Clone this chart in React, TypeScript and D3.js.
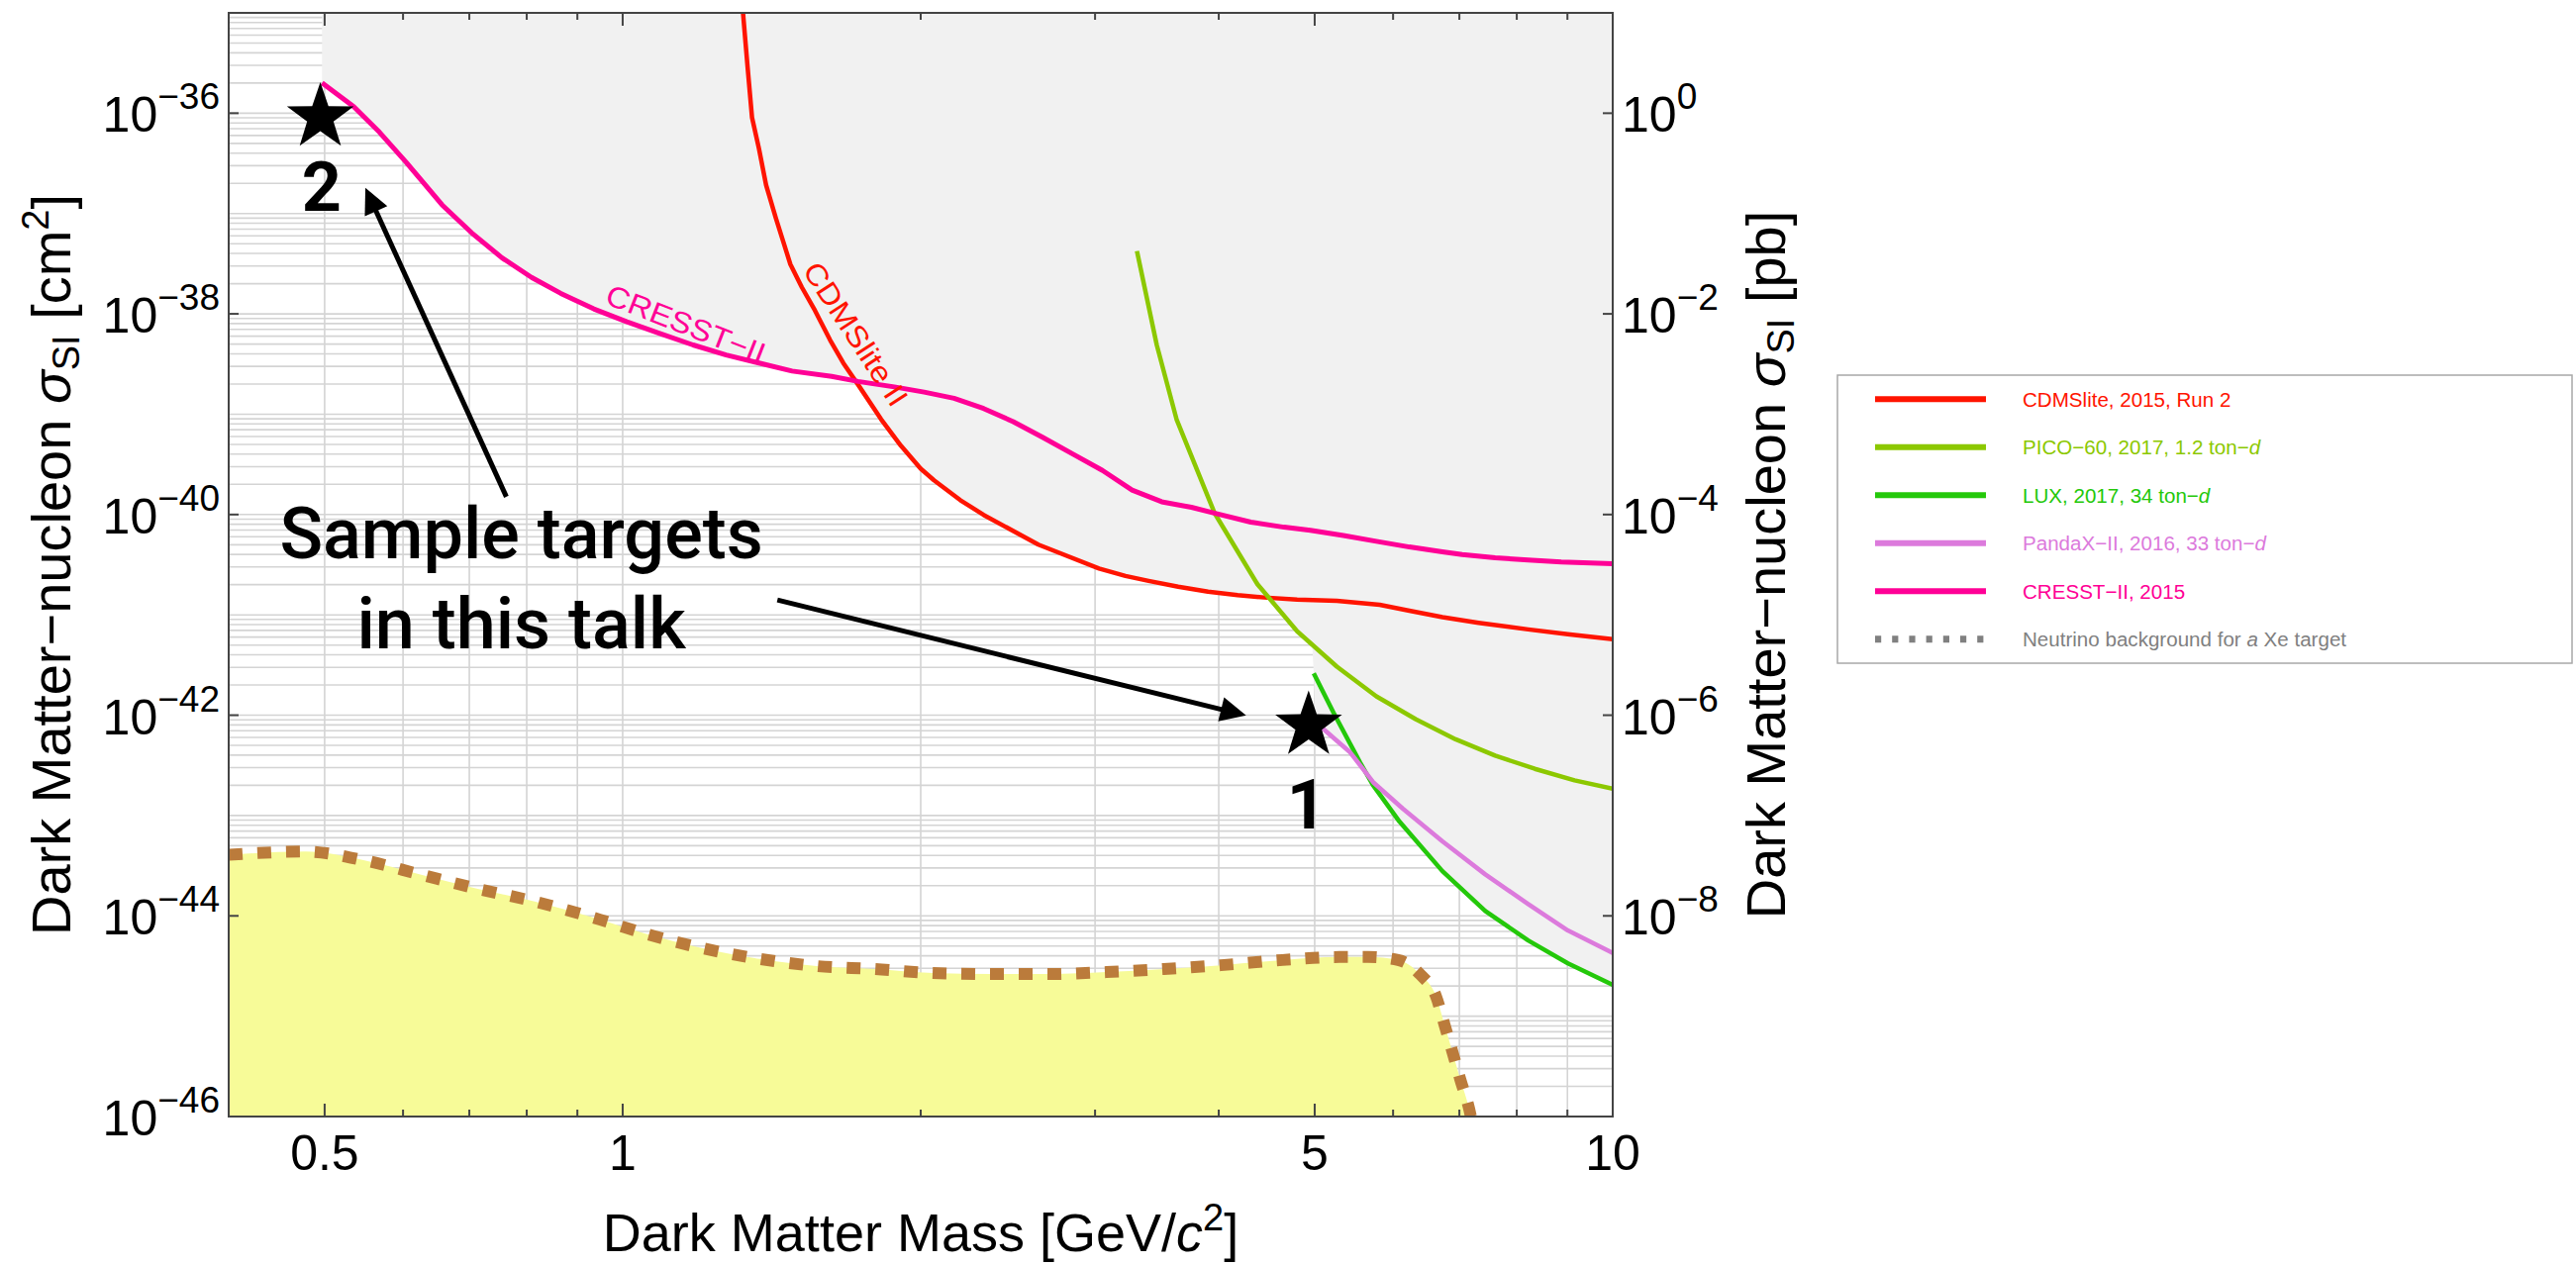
import React from 'react';
import * as d3 from 'd3';

type Pt = [number, number];

// ---------- DATA (mass in GeV/c^2, cross-section in cm^2) ----------
const CDMSLITE: Pt[] = [
  [1.321, 1.19e-35], [1.337, 2.92e-36], [1.351, 9.06e-37], [1.373, 4.42e-37], [1.396, 1.92e-37],
  [1.428, 9.02e-38], [1.477, 3.12e-38], [1.517, 1.84e-38], [1.564, 1.08e-38], [1.62, 5.48e-39],
  [1.671, 3.22e-39], [1.729, 1.97e-39], [1.824, 8.91e-40], [1.91, 4.85e-40], [2.0, 2.86e-40],
  [2.063, 2.19e-40], [2.193, 1.39e-40], [2.315, 9.91e-41], [2.63, 5.01e-41], [3.028, 2.9e-41],
  [3.22, 2.44e-41], [3.398, 2.18e-41], [3.64, 1.91e-41], [3.902, 1.7e-41], [4.18, 1.57e-41],
  [4.445, 1.49e-41], [4.8, 1.42e-41], [5.265, 1.38e-41], [5.816, 1.26e-41], [6.232, 1.1e-41],
  [6.73, 9.48e-42], [7.32, 8.34e-42], [8.215, 7.16e-42], [9.01, 6.4e-42], [10, 5.71e-42],
];

const PICO60: Pt[] = [
  [3.307, 4.23e-38], [3.463, 4.9e-39], [3.626, 8.91e-40], [3.962, 1.03e-40], [4.377, 2.02e-41],
  [4.8, 6.87e-42], [5.265, 3.05e-42], [5.771, 1.54e-42], [6.329, 9.08e-43], [6.94, 5.75e-43],
  [7.608, 3.95e-43], [8.343, 2.92e-43], [9.15, 2.24e-43], [10, 1.85e-43],
];

const LUX: Pt[] = [
  [4.989, 2.62e-42], [5.224, 1.06e-42], [5.555, 3.4e-43], [5.728, 2.0e-43], [6.09, 8.69e-44],
  [6.73, 2.79e-44], [7.435, 1.12e-44], [8.215, 5.69e-45], [9.01, 3.36e-45], [10, 2.05e-45],
];

const PANDAX: Pt[] = [
  [5.0, 8.71e-43], [5.105, 7.24e-43], [5.429, 4.27e-43], [5.728, 2.15e-43], [6.138, 1.17e-43],
  [6.73, 5.52e-44], [7.435, 2.59e-44], [8.215, 1.31e-44], [9.01, 7.14e-45], [10, 4.27e-45],
];

const CRESST: Pt[] = [
  [0.497, 2.01e-36], [0.535, 1.16e-36], [0.568, 6.46e-37], [0.604, 3.27e-37], [0.657, 1.22e-37],
  [0.704, 6.41e-38], [0.755, 3.63e-38], [0.809, 2.31e-38], [0.866, 1.6e-38], [0.935, 1.12e-38],
  [1.01, 8.32e-39], [1.09, 6.37e-39], [1.178, 4.9e-39], [1.272, 3.89e-39], [1.373, 3.24e-39],
  [1.483, 2.69e-39], [1.626, 2.38e-39], [1.729, 2.12e-39], [1.881, 1.87e-39], [2.016, 1.66e-39],
  [2.161, 1.44e-39], [2.315, 1.14e-39], [2.48, 8.43e-40], [2.658, 5.86e-40], [2.848, 4.02e-40],
  [3.052, 2.75e-40], [3.27, 1.75e-40], [3.503, 1.34e-40], [3.754, 1.18e-40], [3.977, 1.02e-40],
  [4.31, 8.39e-41], [4.656, 7.48e-41], [4.95, 6.95e-41], [5.345, 6.19e-41], [5.771, 5.41e-41],
  [6.232, 4.75e-41], [6.73, 4.25e-41], [7.047, 4.0e-41], [7.608, 3.71e-41], [8.215, 3.52e-41],
  [8.872, 3.36e-41], [10, 3.24e-41],
];

const NEUTRINO: Pt[] = [
  [0.4, 4.07e-44], [0.478, 4.37e-44], [0.55, 3.55e-44], [0.626, 2.57e-44], [0.714, 1.86e-44],
  [0.815, 1.39e-44], [0.929, 9.77e-45], [1.056, 6.61e-45], [1.201, 4.79e-45], [1.376, 3.72e-45],
  [1.57, 3.16e-45], [1.798, 2.95e-45], [2.057, 2.69e-45], [2.355, 2.63e-45], [2.7, 2.63e-45],
  [3.08, 2.75e-45], [3.52, 2.95e-45], [4.05, 3.24e-45], [4.64, 3.63e-45], [5.3, 3.89e-45],
  [5.66, 3.89e-45], [6.07, 3.63e-45], [6.4, 2.57e-45], [6.63, 1.58e-45], [6.76, 8.32e-46],
  [6.89, 4.37e-46], [7.02, 2.29e-46], [7.16, 1.2e-46], [7.19, 1.0e-46],
];

const SERIES_KEYS = ['CDMSlite', 'PICO', 'LUX', 'PandaX', 'CRESST'];
const SERIES_DATA: Pt[][] = [CDMSLITE, PICO60, LUX, PANDAX, CRESST];
const SERIES_COLORS = ['#ff1400', '#8cc800', '#24c80a', '#dc7adc', '#ff0096'];

const X_MAJOR_TICKS = [0.5, 1, 5, 10];
const X_MINOR_TICKS = [0.6, 0.7, 0.8, 0.9, 2, 3, 4, 6, 7, 8, 9];
const Y_LEFT_EXPONENTS = [-36, -38, -40, -42, -44, -46];
const Y_RIGHT_EXPONENTS = [0, -2, -4, -6, -8];

// annotation anchors (data coordinates)
const STARS: Pt[] = [[0.495, 9.1e-37], [4.93, 7.9e-43]];
const STAR_LABELS: { text: string; at: Pt }[] = [
  { text: '2', at: [0.4964, 1.057e-37] },
  { text: '1', at: [4.908, 7.36e-44] },
];
const ARROWS: { from: Pt; to: Pt }[] = [
  { from: [0.763, 1.503e-40], to: [0.5497, 1.807e-37] },
  { from: [1.433, 1.406e-41], to: [4.263, 9.93e-43] },
];
const NOTE_LINES = ['Sample targets', 'in this talk'];

// ---------- LAYOUT ----------
const W = 2602;
const H = 1278;
const PL = 231, PR = 1629, PT = 13, PB = 1128;
const FONT = '"Liberation Sans", Arial, Helvetica, sans-serif';

const x = d3.scaleLog().domain([0.4, 10]).range([PL, PR]);
const y = d3.scaleLog().domain([1e-46, 1e-35]).range([PB, PT]);

function logInterp(curve: Pt[], m: number): number | null {
  if (m < curve[0][0] - 1e-9 || m > curve[curve.length - 1][0] + 1e-9) return null;
  const lm = Math.log10(m);
  for (let i = 0; i < curve.length - 1; i++) {
    const a = curve[i], b = curve[i + 1];
    if (m >= a[0] - 1e-9 && m <= b[0] + 1e-9) {
      const la = Math.log10(a[0]), lb = Math.log10(b[0]);
      const t = lb === la ? 0 : (lm - la) / (lb - la);
      return Math.log10(a[1]) + t * (Math.log10(b[1]) - Math.log10(a[1]));
    }
  }
  return Math.log10(curve[curve.length - 1][1]);
}

function starPath(cx: number, cy: number, R: number, r: number): string {
  const pts: string[] = [];
  for (let i = 0; i < 10; i++) {
    const ang = -Math.PI / 2 + (i * Math.PI) / 5;
    const rad = i % 2 === 0 ? R : r;
    pts.push(`${(cx + rad * Math.cos(ang)).toFixed(2)},${(cy + rad * Math.sin(ang)).toFixed(2)}`);
  }
  return 'M' + pts.join('L') + 'Z';
}

function Arrow({ from, to }: { from: Pt; to: Pt }) {
  const x1 = x(from[0]), y1 = y(from[1]);
  const x2 = x(to[0]), y2 = y(to[1]);
  const dx = x2 - x1, dy = y2 - y1;
  const len = Math.hypot(dx, dy);
  const ux = dx / len, uy = dy / len;
  const hl = 26, hw = 12.5;
  const bx = x2 - ux * hl, by = y2 - uy * hl;
  const head = `M${x2},${y2}L${bx - uy * hw},${by + ux * hw}L${bx + uy * hw},${by - ux * hw}Z`;
  return (
    <g>
      <line x1={x1} y1={y1} x2={bx + ux * 2} y2={by + uy * 2} stroke="#000" strokeWidth={5} />
      <path d={head} fill="#000" />
    </g>
  );
}

export default function App() {
  // grid
  const vGrid: number[] = [];
  for (const dec of [0.1, 1]) for (let k = 1; k <= 9; k++) {
    const v = k * dec;
    if (v > 0.4 && v < 10) vGrid.push(v);
  }
  const hGrid: number[] = [];
  for (let e = -46; e <= -36; e++) for (let k = 1; k <= 9; k++) {
    const v = k * Math.pow(10, e);
    if (v > 1e-46 && v < 1e-35) hGrid.push(v);
  }

  // exclusion envelope
  const m0 = CRESST[0][0];
  const grid = new Set<number>();
  const N = 700;
  for (let i = 0; i <= N; i++) grid.add(Math.pow(10, Math.log10(m0) + (i / N) * (1 - Math.log10(m0))));
  SERIES_DATA.forEach(c => c.forEach(p => grid.add(p[0])));
  const ms = Array.from(grid).filter(m => m >= m0 && m <= 10).sort((a, b) => a - b);
  const env: Pt[] = [];
  ms.forEach(m => {
    let best = Infinity;
    SERIES_DATA.forEach(c => {
      const v = logInterp(c, m);
      if (v !== null && v < best) best = v;
    });
    if (best < Infinity) env.push([m, Math.pow(10, best)]);
  });
  const exclPath =
    `M${x(m0)},${PT - 5}` +
    env.map(p => `L${x(p[0])},${Math.min(y(p[1]), PB)}`).join('') +
    `L${x(10)},${PT - 5}Z`;

  const line = d3.line<Pt>().x(d => x(d[0])).y(d => y(d[1]));
  const nuLine = d3.line<Pt>().x(d => x(d[0])).y(d => y(d[1])).curve(d3.curveMonotoneX);
  const nuArea = d3.area<Pt>().x(d => x(d[0])).y0(PB).y1(d => y(d[1])).curve(d3.curveMonotoneX);

  const legendRows = [
    { key: 'CDMSlite', color: SERIES_COLORS[0], parts: [{ t: 'CDMSlite, 2015, Run 2' }] },
    { key: 'PICO', color: SERIES_COLORS[1], parts: [{ t: 'PICO\u221260, 2017, 1.2 ton\u2212' }, { t: 'd', i: true }] },
    { key: 'LUX', color: SERIES_COLORS[2], parts: [{ t: 'LUX, 2017, 34 ton\u2212' }, { t: 'd', i: true }] },
    { key: 'PandaX', color: SERIES_COLORS[3], parts: [{ t: 'PandaX\u2212II, 2016, 33 ton\u2212' }, { t: 'd', i: true }] },
    { key: 'CRESST', color: SERIES_COLORS[4], parts: [{ t: 'CRESST\u2212II, 2015' }] },
    { key: 'nu', color: '#808080', parts: [{ t: 'Neutrino background for ' }, { t: 'a', i: true }, { t: ' Xe target' }] },
  ];

  const LX = 1856, LY = 379, LW = 742, LH = 291;
  const rowY0 = 403.3, rowDy = 48.5;

  return (
    <svg width={W} height={H} viewBox={`0 0 ${W} ${H}`}
      style={{ position: 'absolute', left: 0, top: 0, background: '#fff' }}
      fontFamily={FONT}>
      <defs>
        <clipPath id="plotClip">
          <rect x={PL} y={PT} width={PR - PL} height={PB - PT} />
        </clipPath>
      </defs>
      <rect x={0} y={0} width={W} height={H} fill="#fff" />

      <g clipPath="url(#plotClip)">
        {/* grid */}
        {vGrid.map(v => (
          <line key={'vg' + v} x1={x(v)} x2={x(v)} y1={PT} y2={PB} stroke="#d4d4d4" strokeWidth={1.6} />
        ))}
        {hGrid.map(v => (
          <line key={'hg' + v} x1={PL} x2={PR} y1={y(v)} y2={y(v)} stroke="#d4d4d4" strokeWidth={1.6} />
        ))}
        {/* excluded region */}
        <path d={exclPath} fill="#f1f1f1" />
        {/* neutrino floor */}
        <path d={nuArea(NEUTRINO) || ''} fill="#f7fb98" />
        {/* limits */}
        {SERIES_DATA.map((d, i) => (
          <path key={SERIES_KEYS[i]} d={line(d) || ''} fill="none" stroke={SERIES_COLORS[i]}
            strokeWidth={i === 4 ? 5 : 4.5} strokeLinejoin="round" />
        ))}
        <path d={nuLine(NEUTRINO) || ''} fill="none" stroke="#bb7b3b" strokeWidth={12}
          strokeDasharray="14 15" />
      </g>

      {/* in-plot curve labels */}
      <text transform={`translate(${x(0.957)},${y(1.28e-38)}) rotate(21.3)`} fontSize={30}
        fill={SERIES_COLORS[4]} textLength={170} lengthAdjust="spacingAndGlyphs">CRESST{'\u2212'}II</text>
      <text transform={`translate(${x(1.517)},${y(2.7e-38)}) rotate(56.8)`} fontSize={30}
        fill={SERIES_COLORS[0]} textLength={167} lengthAdjust="spacingAndGlyphs">CDMSlite II</text>

      {/* frame */}
      <rect x={PL} y={PT} width={PR - PL} height={PB - PT} fill="none" stroke="#444" strokeWidth={2} />
      {X_MAJOR_TICKS.map(v => (
        <g key={'xM' + v}>
          <line x1={x(v)} x2={x(v)} y1={PB} y2={PB - 13} stroke="#444" strokeWidth={2} />
          <line x1={x(v)} x2={x(v)} y1={PT} y2={PT + 13} stroke="#444" strokeWidth={2} />
        </g>
      ))}
      {X_MINOR_TICKS.map(v => (
        <g key={'xm' + v}>
          <line x1={x(v)} x2={x(v)} y1={PB} y2={PB - 7} stroke="#444" strokeWidth={2} />
          <line x1={x(v)} x2={x(v)} y1={PT} y2={PT + 7} stroke="#444" strokeWidth={2} />
        </g>
      ))}
      {Y_LEFT_EXPONENTS.map(e => (
        <line key={'yl' + e} x1={PL} x2={PL + 10} y1={y(Math.pow(10, e))} y2={y(Math.pow(10, e))} stroke="#444" strokeWidth={2} />
      ))}
      {Y_RIGHT_EXPONENTS.map(e => (
        <line key={'yr' + e} x1={PR - 10} x2={PR} y1={y(Math.pow(10, e - 36))} y2={y(Math.pow(10, e - 36))} stroke="#444" strokeWidth={2} />
      ))}

      {/* tick labels */}
      {Y_LEFT_EXPONENTS.map(e => (
        <text key={'tl' + e} x={222} y={y(Math.pow(10, e)) + 19} textAnchor="end" fontSize={50}>
          10<tspan fontSize={37} dy={-23}>{'\u2212' + Math.abs(e)}</tspan>
        </text>
      ))}
      {Y_RIGHT_EXPONENTS.map(e => (
        <text key={'tr' + e} x={1638} y={y(Math.pow(10, e - 36)) + 19} fontSize={50}>
          10<tspan fontSize={37} dy={-23}>{e === 0 ? '0' : '\u2212' + Math.abs(e)}</tspan>
        </text>
      ))}
      {X_MAJOR_TICKS.map(v => (
        <text key={'tx' + v} x={x(v)} y={1182} textAnchor="middle" fontSize={50}>{String(v)}</text>
      ))}

      {/* axis titles */}
      <text x={(PL + PR) / 2} y={1264} textAnchor="middle" fontSize={54}>
        Dark Matter Mass [GeV/<tspan fontStyle="italic">c</tspan>
        <tspan fontSize={38} dy={-21}>2</tspan><tspan dy={21}>]</tspan>
      </text>
      <text transform={`translate(71,${(PT + PB) / 2}) rotate(-90)`} textAnchor="middle" fontSize={56}>
        Dark Matter{'\u2212'}nucleon <tspan fontStyle="italic">{'\u03c3'}</tspan>
        <tspan fontSize={38} dy={9}>SI</tspan><tspan dy={-9}>{' [cm'}</tspan>
        <tspan fontSize={38} dy={-22}>2</tspan><tspan dy={22}>]</tspan>
      </text>
      <text transform={`translate(1803,${(PT + PB) / 2}) rotate(-90)`} textAnchor="middle" fontSize={56}>
        Dark Matter{'\u2212'}nucleon <tspan fontStyle="italic">{'\u03c3'}</tspan>
        <tspan fontSize={38} dy={9}>SI</tspan><tspan dy={-9}>{' [pb]'}</tspan>
      </text>

      {/* annotations */}
      {STARS.map((s, i) => (
        <path key={'star' + i} d={starPath(x(s[0]), y(s[1]), 35.5, 14)} fill="#000" />
      ))}
      {STAR_LABELS.map(l => (
        <text key={'sl' + l.text} x={x(l.at[0])} y={y(l.at[1])} textAnchor="middle" fontSize={70}
          fontWeight={700} fontFamily="Roboto, sans-serif">{l.text}</text>
      ))}
      {ARROWS.map((a, i) => <Arrow key={'ar' + i} from={a.from} to={a.to} />)}
      {NOTE_LINES.map((t, i) => (
        <text key={'note' + i} x={x(0.79)} y={y(i === 0 ? 3.65e-41 : 4.62e-42)} textAnchor="middle"
          fontSize={72} fontWeight={500} fontFamily="Roboto, sans-serif">{t}</text>
      ))}

      {/* legend */}
      <rect x={LX} y={LY} width={LW} height={LH} fill="#fff" stroke="#a8a8a8" strokeWidth={1.5} />
      {legendRows.map((r, i) => {
        const ry = rowY0 + i * rowDy;
        return (
          <g key={'lg' + r.key}>
            {r.key === 'nu' ? (
              <line x1={1894} x2={2006} y1={ry} y2={ry} stroke={r.color} strokeWidth={7} strokeDasharray="6.2 11" />
            ) : (
              <line x1={1894} x2={2006} y1={ry} y2={ry} stroke={r.color} strokeWidth={6} />
            )}
            <g transform={`translate(2043,${ry + 7.5}) scale(0.98,1)`}>
              <text x={0} y={0} fontSize={21} fill={r.color}>
                {r.parts.map((p, j) => (
                  <tspan key={j} fontStyle={(p as any).i ? 'italic' : 'normal'}>{p.t}</tspan>
                ))}
              </text>
            </g>
          </g>
        );
      })}
    </svg>
  );
}
